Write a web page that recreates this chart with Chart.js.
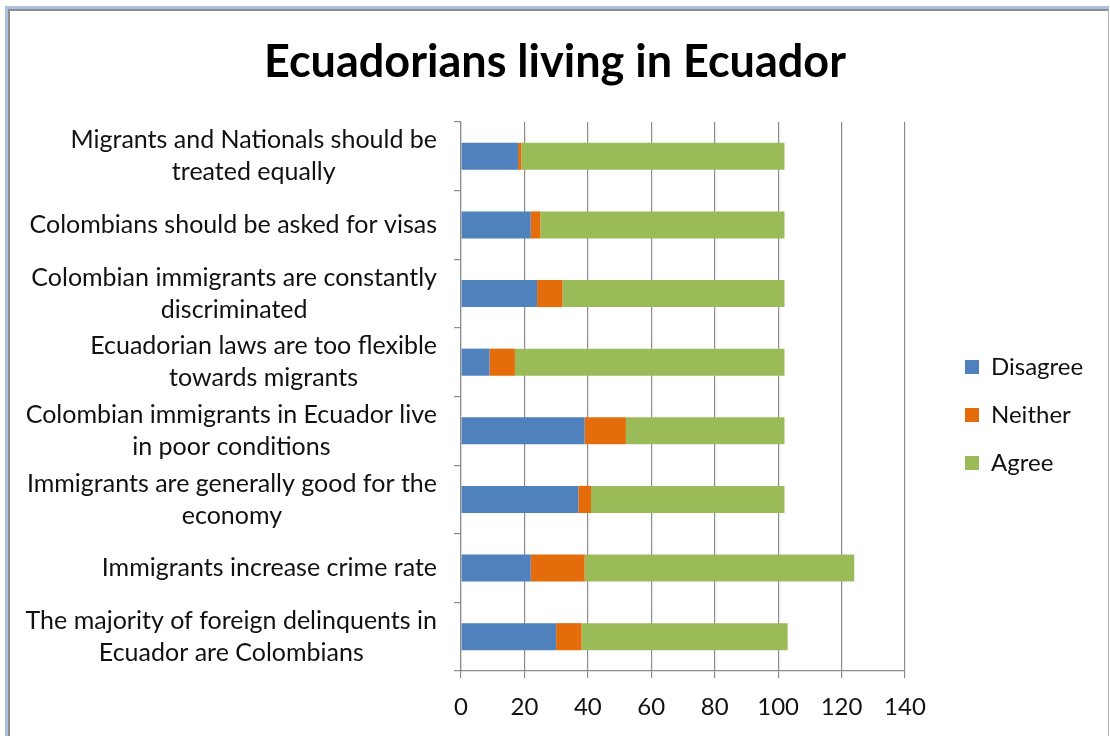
<!DOCTYPE html>
<html>
<head>
<meta charset="utf-8">
<title>Ecuadorians living in Ecuador</title>
<script src="https://cdn.jsdelivr.net/npm/chart.js@4.4.1/dist/chart.umd.min.js"></script>
<style>
  html, body { margin: 0; padding: 0; background: #fff; }
  #frame {
    position: absolute; left: 5px; top: 6px; width: 1101px; height: 740px;
    border-top: 3px solid #a9c1df; border-left: 3px solid #a9c1df;
  }
  #inner {
    position: absolute; left: 0; top: 0; right: 0; bottom: 0;
    border-top: 2px solid #8e8e8e; border-left: 2px solid #8e8e8e; border-right: 1px solid #b0b0b0;
  }
  #chart { position: absolute; left: 0; top: 0; }
</style>
</head>
<body>
<div id="frame"><div id="inner"></div></div>
<canvas id="chart" width="1110" height="736"></canvas>
<script>
const statements = [
  ["Migrants and Nationals should be", "treated equally"],
  ["Colombians should be asked for visas"],
  ["Colombian immigrants are constantly", "discriminated"],
  ["Ecuadorian laws are too flexible", "towards migrants"],
  ["Colombian immigrants in Ecuador live", "in poor conditions"],
  ["Immigrants are generally good for the", "economy"],
  ["Immigrants increase crime rate"],
  ["The majority of foreign delinquents in", "Ecuador are Colombians"]
];
const disagree = [18, 22, 24, 9, 39, 37, 22, 30];
const neither  = [1, 3, 8, 8, 13, 4, 17, 8];
const agree    = [83, 77, 70, 85, 50, 61, 85, 65];
const xTicks   = [0, 20, 40, 60, 80, 100, 120, 140];

const FONT = 'Lato';
const gridGray = '#8c8c8c';

// statement labels: block right-aligned to the axis, lines centred inside the block
const statementLabels = {
  id: 'statementLabels',
  afterDraw(chart) {
    const scale = chart.scales.y;
    const ctx = chart.ctx;
    ctx.save();
    ctx.font = '25px ' + FONT;
    ctx.fillStyle = '#111';
    ctx.textAlign = 'center';
    ctx.textBaseline = 'middle';
    const right = scale.right - 24;
    const lineH = 32;
    statements.forEach((lines, i) => {
      const y = scale.getPixelForTick(i);
      const w = Math.max(...lines.map(l => ctx.measureText(l).width));
      const cx = right - w / 2;
      lines.forEach((l, k) => {
        ctx.fillText(l, cx, y + (k - (lines.length - 1) / 2) * lineH);
      });
    });
    ctx.restore();
  }
};

// fixed legend column, items pushed down and right
const legendPlace = {
  id: 'legendPlace',
  beforeInit(chart) {
    const legend = chart.legend;
    const fit = legend.fit;
    legend.fit = function () {
      fit.call(this);
      this.width = 205;
    };
  },
  afterLayout(chart) {
    const l = chart.legend;
    l.left += 36; l.right += 36;
    l.top += 42; l.bottom += 42;
  }
};

new Chart(document.getElementById('chart'), {
  type: 'bar',
  data: {
    labels: statements,
    datasets: [
      { label: 'Disagree', data: disagree, backgroundColor: '#4f81bd' },
      { label: 'Neither', data: neither, backgroundColor: '#e46c0a' },
      { label: 'Agree', data: agree, backgroundColor: '#9bbb59' }
    ]
  },
  options: {
    indexAxis: 'y',
    responsive: false,
    animation: false,
    devicePixelRatio: 1,
    layout: { padding: { top: 10, left: 0, right: 0, bottom: 0 } },
    datasets: {
      bar: { barPercentage: 0.395, categoryPercentage: 1, borderWidth: 0 }
    },
    scales: {
      x: {
        stacked: true,
        min: 0,
        max: 140,
        afterBuildTicks: (scale) => { scale.ticks = xTicks.map(v => ({ value: v })); },
        afterFit: (scale) => { scale.height = 65; },
        ticks: {
          color: '#111',
          padding: 15,
          font: { family: FONT, size: 24 }
        },
        grid: { color: gridGray, lineWidth: 1.2, tickLength: 7 },
        border: { color: gridGray, width: 1.2 }
      },
      y: {
        stacked: true,
        afterFit: (scale) => { scale.width = 461; },
        ticks: { display: false },
        grid: { color: gridGray, lineWidth: 1.2, tickLength: 7, drawOnChartArea: false, drawTicks: true },
        border: { color: gridGray, width: 1.2 }
      }
    },
    plugins: {
      title: {
        display: true,
        text: 'Ecuadorians living in Ecuador',
        color: '#000',
        font: { family: FONT, size: 45, weight: 'bold', lineHeight: 1.2 },
        padding: { top: 25, bottom: 33 }
      },
      legend: {
        position: 'right',
        labels: {
          color: '#111',
          boxWidth: 14,
          boxHeight: 14,
          padding: 24,
          font: { family: FONT, size: 24 }
        }
      },
      tooltip: { enabled: false }
    }
  },
  plugins: [statementLabels, legendPlace]
});
</script>
</body>
</html>
